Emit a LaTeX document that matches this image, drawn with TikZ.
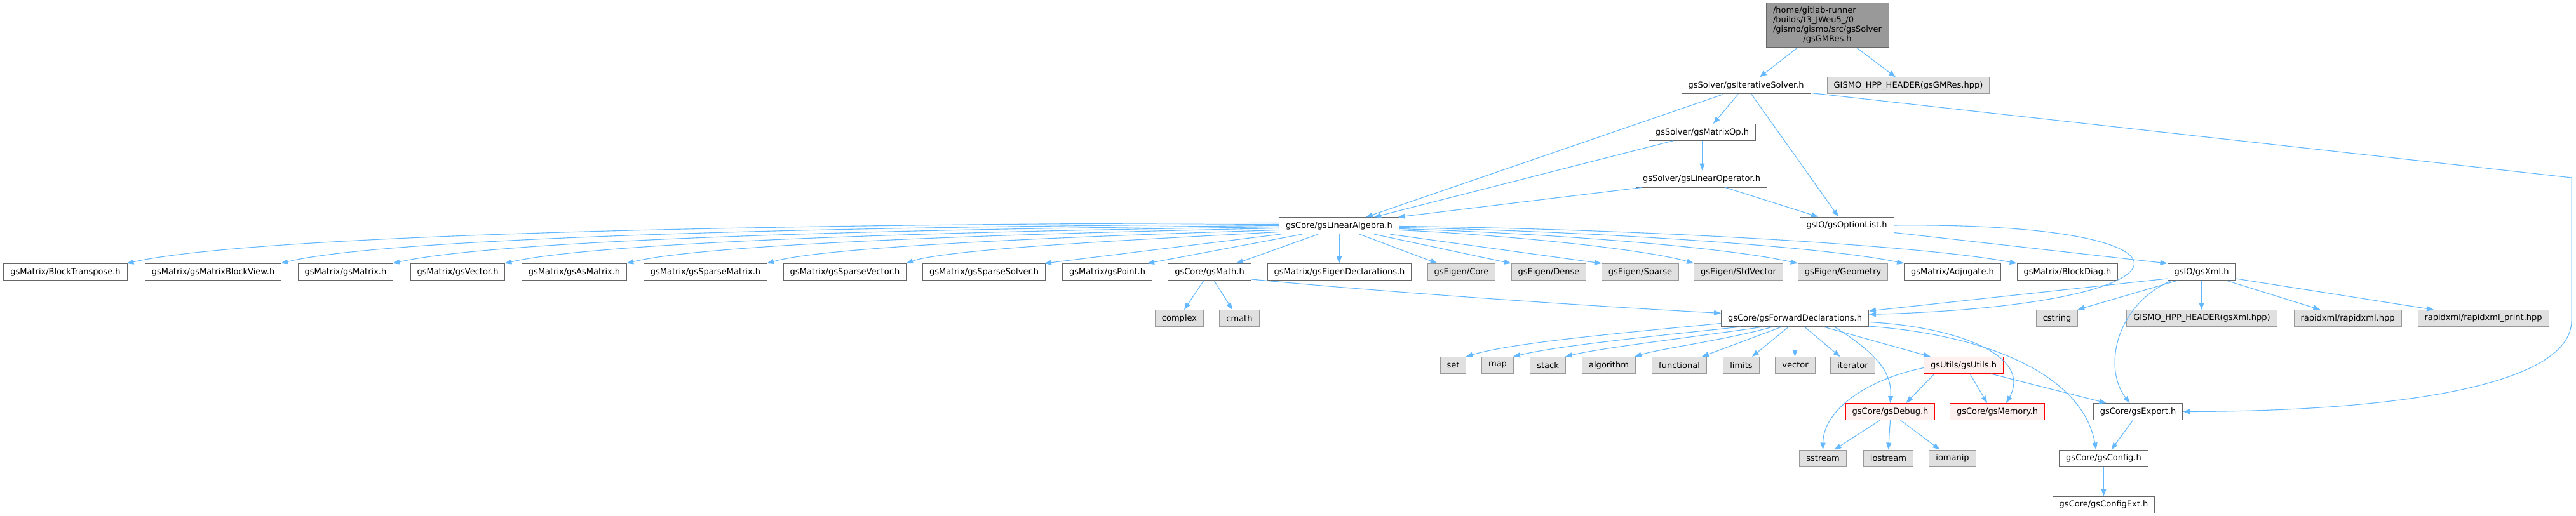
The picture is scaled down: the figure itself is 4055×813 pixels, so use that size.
\documentclass[tikz,border=0pt]{standalone}
\usepackage{fontspec}
\setmainfont{DejaVu Sans}
\usetikzlibrary{arrows.meta,calc}
\definecolor{edgeblue}{HTML}{63B8FF}
\definecolor{bordgray}{HTML}{666666}
\definecolor{extborder}{HTML}{999999}
\definecolor{extfill}{HTML}{E0E0E0}
\definecolor{topfill}{HTML}{999999}
\definecolor{truncfill}{HTML}{FFF0F0}
\newcommand\nodefs{\fontsize{13}{15}\selectfont}
\tikzset{
  box/.style={draw=bordgray, fill=white, line width=1pt, minimum height=26pt, inner xsep=10.5pt, inner ysep=0pt, font=\nodefs},
  ext/.style={box, draw=extborder, fill=extfill},
  trunc/.style={box, draw=red, fill=truncfill},
  e/.style={draw=edgeblue, line width=1.1pt, -{Triangle[length=11pt,width=8pt]}},
}
\begin{document}
\begin{tikzpicture}[x=1pt,y=-1pt]
\useasboundingbox (0,0) rectangle (4055,813);
% row 0
\node[box, fill=topfill, minimum width=193pt, minimum height=70pt, inner sep=0pt] (top) at (2876.5,40)
 {\begin{tabular}{@{}l@{}}/home/gitlab-runner\\/builds/t3\_JWeu5\_/0\\/gismo/gismo/src/gsSolver\\\multicolumn{1}{@{}c@{}}{/gsGMRes.h}\end{tabular}};
% row 1
\node[box] (its) at (2748.5,135) {gsSolver/gsIterativeSolver.h};
\node[ext] (gmh) at (3004,135) {GISMO\_HPP\_HEADER(gsGMRes.hpp)};
% row 2,3
\node[box] (mop) at (2679.5,208.5) {gsSolver/gsMatrixOp.h};
\node[box] (lop) at (2678.5,282) {gsSolver/gsLinearOperator.h};
% row 4
\node[box] (la) at (2108,355.5) {gsCore/gsLinearAlgebra.h};
\node[box] (opt) at (2907,355) {gsIO/gsOptionList.h};
% row 5
\node[box] (bt) at (103,428.5) {gsMatrix/BlockTranspose.h};
\node[box] (mbv) at (335.5,428.5) {gsMatrix/gsMatrixBlockView.h};
\node[box] (mat) at (544,428.5) {gsMatrix/gsMatrix.h};
\node[box] (vec) at (720.5,428.5) {gsMatrix/gsVector.h};
\node[box] (asm) at (904,428.5) {gsMatrix/gsAsMatrix.h};
\node[box] (spm) at (1110.5,428.5) {gsMatrix/gsSparseMatrix.h};
\node[box] (spv) at (1330,428.5) {gsMatrix/gsSparseVector.h};
\node[box] (sps) at (1549,428.5) {gsMatrix/gsSparseSolver.h};
\node[box] (pt) at (1743,428.5) {gsMatrix/gsPoint.h};
\node[box] (math) at (1904,428.5) {gsCore/gsMath.h};
\node[box] (eid) at (2108.5,428.5) {gsMatrix/gsEigenDeclarations.h};
\node[ext] (ecore) at (2300.5,428.5) {gsEigen/Core};
\node[ext] (edense) at (2438,428.5) {gsEigen/Dense};
\node[ext] (esparse) at (2582,428.5) {gsEigen/Sparse};
\node[ext] (estd) at (2736.5,428.5) {gsEigen/StdVector};
\node[ext] (egeo) at (2901,428.5) {gsEigen/Geometry};
\node[box] (adj) at (3073.5,428.5) {gsMatrix/Adjugate.h};
\node[box] (bd) at (3254.5,428.5) {gsMatrix/BlockDiag.h};
\node[box] (xml) at (3465.5,428.5) {gsIO/gsXml.h};
% row 6
\node[ext] (cplx) at (1856.5,501.5) {complex};
\node[ext] (cmath) at (1951,501.5) {cmath};
\node[box] (fwd) at (2825.5,501.5) {gsCore/gsForwardDeclarations.h};
\node[ext] (cstr) at (3238,501.5) {cstring};
\node[ext] (gxh) at (3466,501.5) {GISMO\_HPP\_HEADER(gsXml.hpp)};
\node[ext] (rx) at (3695.5,501.5) {rapidxml/rapidxml.hpp};
\node[ext] (rxp) at (3909,501.5) {rapidxml/rapidxml\_print.hpp};
% row 7
\node[ext] (set) at (2287.5,575.5) {set};
\node[ext] (map) at (2357.5,575.5) {map};
\node[ext] (stack) at (2436.5,575.5) {stack};
\node[ext] (algo) at (2532.5,575.5) {algorithm};
\node[ext] (func) at (2643.5,575.5) {functional};
\node[ext] (lim) at (2741,575.5) {limits};
\node[ext] (vect) at (2826,575.5) {vector};
\node[ext] (iter) at (2916.5,575.5) {iterator};
\node[trunc] (utl) at (3091,575.5) {gsUtils/gsUtils.h};
% row 8
\node[trunc] (dbg) at (2975.5,648.5) {gsCore/gsDebug.h};
\node[trunc] (mem) at (3144,648.5) {gsCore/gsMemory.h};
\node[box] (exp) at (3365.5,648.5) {gsCore/gsExport.h};
% row 9
\node[ext] (sst) at (2869.5,722) {sstream};
\node[ext] (ios) at (2972.5,722) {iostream};
\node[ext] (iom) at (3073.5,722) {iomanip};
\node[box] (cfg) at (3311.5,722) {gsCore/gsConfig.h};
% row 10
\node[box] (cfx) at (3311.5,795) {gsCore/gsConfigExt.h};
% waypoints
\coordinate (w1) at (4048,280);
\coordinate (w2) at (4048,505);

% edges top
\draw[e] ($(top.south)+(-47.5,0)$) -- ($(its.north)+(21.5,0)$);
\draw[e] ($(top.south)+(46.5,0)$) -- ($(gmh.north)+(-20,0)$);
% iterative solver
\draw[e] ($(its.south)+(-35.5,0)$) -- ($(la.north)+(42,0)$);
\draw[e] ($(its.south)+(-12.5,0)$) -- ($(mop.north)+(17.5,0)$);
\draw[e] ($(its.south)+(8.5,0)$) -- ($(opt.north)+(-13,0)$);
\draw[e] ($(its.south east)+(0,-2)$) -- (w1) -- (w2) .. controls (4048,610) and (3760,648) .. (exp.east);
% matrix op / linear operator
\draw[e] ($(mop.south)+(-46.5,0)$) -- ($(la.north)+(55,0)$);
\draw[e] (mop.south) -- (mop.south |- lop.north);
\draw[e] ($(lop.south west)+(9,0)$) -- ($(la.north east)+(-2,0)$);
\draw[e] ($(lop.south)+(37.5,0)$) -- ($(opt.north)+(-45,0)$);
% option list
\draw[e] (opt.east) .. controls (3500,350) and (3480,480) .. ($(fwd.north east)+(0,7.5)$);
\draw[e] ($(opt.south east)+(0,-2)$) -- (xml.north west);
% linear algebra, left targets
\draw[e] ($(la.west)+(0,-4)$) .. controls (1200,352) and (400,370) .. ($(bt.north east)+(-1,0)$);
\draw[e] ($(la.west)+(0,-2)$) .. controls (1300,356) and (600,375) .. ($(mbv.north east)+(-1,0)$);
\draw[e] ($(la.west)+(0,0)$) .. controls (1400,360) and (780,378) .. ($(mat.north east)+(-1,0)$);
\draw[e] ($(la.west)+(0,2)$) .. controls (1500,364) and (940,381) .. ($(vec.north east)+(-1,0)$);
\draw[e] ($(la.west)+(0,4)$) .. controls (1600,368) and (1110,384) .. ($(asm.north east)+(-1,0)$);
\draw[e] ($(la.west)+(0,7)$) .. controls (1700,372) and (1300,388) .. ($(spm.north east)+(-1,0)$);
\draw[e] ($(la.west)+(0,10)$) .. controls (1800,377) and (1490,392) .. ($(spv.north east)+(-1,0)$);
\draw[e] ($(la.south west)+(3,0)$) -- ($(sps.north east)+(-2,0)$);
\draw[e] ($(la.south)+(-58,0)$) -- ($(pt.north east)+(-8,0)$);
\draw[e] ($(la.south)+(-33,0)$) -- ($(math.north)+(42,0)$);
\draw[e] (la.south) -- (la.south |- eid.north);
% linear algebra, right targets
\draw[e] ($(la.south)+(32,0)$) -- ($(ecore.north west)+(16,0)$);
\draw[e] ($(la.south)+(55,0)$) -- (edense.north west);
\draw[e] ($(la.south east)+(-15,0)$) -- (esparse.north west);
\draw[e] ($(la.east)+(0,7)$) .. controls (2400,372) and (2600,395) .. (estd.north west);
\draw[e] ($(la.east)+(0,5)$) .. controls (2450,368) and (2720,390) .. (egeo.north west);
\draw[e] ($(la.east)+(0,3)$) .. controls (2500,364) and (2870,388) .. (adj.north west);
\draw[e] ($(la.east)+(0,1)$) .. controls (2550,360) and (3020,385) .. (bd.north west);
% math
\draw[e] ($(math.south)+(-9,0)$) -- ($(cplx.north)+(7.5,0)$);
\draw[e] ($(math.south)+(7,0)$) -- ($(cmath.north)+(-11,0)$);
\draw[e] ($(math.south east)+(0,-2)$) .. controls (2200,462) and (2500,482) .. ($(fwd.west)+(0,-8)$);
% xml
\draw[e] ($(xml.south west)+(0,-3)$) -- ($(fwd.north east)+(0,2)$);
\draw[e] ($(xml.south west)+(16,0)$) -- ($(cstr.north east)+(-1,0)$);
\draw[e] (xml.south) -- (xml.south |- gxh.north);
\draw[e] ($(xml.south east)+(-15,0)$) -- ($(rx.north)+(-43,0)$);
\draw[e] ($(xml.south east)+(0,-3)$) -- ($(rxp.north)+(-78,0)$);
\draw[e] ($(xml.south west)+(7,0)$) .. controls (3330,480) and (3310,580) .. ($(exp.north)+(-13,0)$);
% forward declarations
\draw[e] ($(fwd.west)+(0,8)$) .. controls (2550,525) and (2380,540) .. ($(set.north east)+(-1,0)$);
\draw[e] ($(fwd.south west)+(31,0)$) .. controls (2600,530) and (2450,545) .. ($(map.north east)+(-1,0)$);
\draw[e] ($(fwd.south)+(-50,0)$) .. controls (2660,532) and (2520,548) .. ($(stack.north east)+(-1,0)$);
\draw[e] ($(fwd.south)+(-35,0)$) .. controls (2720,535) and (2610,550) .. ($(algo.north east)+(-2,0)$);
\draw[e] ($(fwd.south)+(-21,0)$) -- ($(func.north east)+(-8,0)$);
\draw[e] ($(fwd.south)+(-10,0)$) -- ($(lim.north)+(17,0)$);
\draw[e] (fwd.south) -- (fwd.south |- vect.north);
\draw[e] ($(fwd.south)+(15,0)$) -- ($(iter.north)+(-20,0)$);
\draw[e] ($(fwd.south)+(45,0)$) -- ($(utl.north)+(-52,0)$);
\draw[e] ($(fwd.south)+(62,0)$) .. controls (2960,560) and (2978,590) .. (dbg.north);
\draw[e] ($(fwd.east)+(0,6)$) .. controls (3080,515) and (3200,560) .. ($(mem.north)+(14,0)$);
\draw[e] ($(fwd.south east)+(0,-1)$) .. controls (3150,530) and (3280,600) .. ($(cfg.north)+(-12,0)$);
% utils
\draw[e] ($(utl.west)+(0,4)$) .. controls (2930,600) and (2870,650) .. (sst.north);
\draw[e] ($(utl.south west)+(17,0)$) -- ($(dbg.north)+(25,0)$);
\draw[e] ($(utl.south)+(10,0)$) -- ($(mem.north)+(-16,0)$);
\draw[e] ($(utl.south east)+(-20,0)$) -- ($(exp.north)+(-50,0)$);
% debug
\draw[e] ($(dbg.south)+(-16,0)$) -- ($(sst.north)+(18,0)$);
\draw[e] (dbg.south) -- (ios.north);
\draw[e] ($(dbg.south)+(16,0)$) -- ($(iom.north)+(-20,0)$);
% export, config
\draw[e] ($(exp.south)+(-8,0)$) -- ($(cfg.north)+(12,0)$);
\draw[e] (cfg.south) -- (cfx.north);
\end{tikzpicture}
\end{document}
